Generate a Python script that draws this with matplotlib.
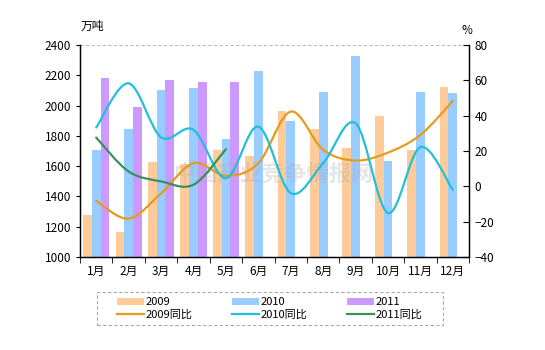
import numpy as np
import matplotlib
matplotlib.use('Agg')
import matplotlib.pyplot as plt
from matplotlib.path import Path
from matplotlib.patches import PathPatch, Rectangle
from matplotlib.lines import Line2D

plt.rcParams['font.family'] = ['Noto Sans CJK SC', 'DejaVu Sans']

months = ['1月', '2月', '3月', '4月', '5月', '6月', '7月', '8月', '9月', '10月', '11月', '12月']
out_2009 = [1280, 1167, 1626, 1615, 1705, 1664, 1965, 1846, 1720, 1932, 1708, 2123]
out_2010 = [1708, 1846, 2103, 2116, 1780, 2228, 1899, 2092, 2327, 1635, 2092, 2083]
out_2011 = [2180, 1989, 2169, 2156, 2156]
yoy_2009 = [-8.2, -18.3, -4.0, 13.1, 6.0, 13.0, 42.3, 20.7, 14.6, 19.1, 29.1, 48.3]
yoy_2010 = [33.3, 58.3, 27.8, 32.0, 4.6, 33.8, -3.8, 13.1, 35.7, -15.1, 22.2, -2.0]
yoy_2011 = [27.6, 8.4, 2.8, 0.9, 21.0]

C_BAR09, C_BAR10, C_BAR11 = '#FFCC99', '#99CCFF', '#CC99FF'
C_L09, C_L10, C_L11 = '#E89A1C', '#22C0D8', '#3A8F5E'


def smooth_path(xs, ys):
    # Excel style smoothed line: cubic bezier through the points
    p = np.column_stack([xs, ys]).astype(float)
    ext = np.vstack([p[0], p, p[-1]])
    verts, codes = [p[0]], [Path.MOVETO]
    for i in range(len(p) - 1):
        p0, p1, p2, p3 = ext[i], ext[i + 1], ext[i + 2], ext[i + 3]
        verts += [p1 + (p2 - p0) / 6, p2 - (p3 - p1) / 6, p2]
        codes += [Path.CURVE4] * 3
    return Path(verts, codes)


fig = plt.figure(figsize=(5.45, 3.5), dpi=100)
ax = fig.add_axes([0.1468, 0.2657, 0.7138, 0.6057])
ax2 = ax.twinx()

x = np.arange(len(months))
w = 0.27
b09 = ax.bar(x - w, out_2009, w, color=C_BAR09, label='2009')
b10 = ax.bar(x, out_2010, w, color=C_BAR10, label='2010')
b11 = ax.bar(x[:len(out_2011)] + w, out_2011, w, color=C_BAR11, label='2011')

for ys, c in [(yoy_2009, C_L09), (yoy_2010, C_L10), (yoy_2011, C_L11)]:
    ax2.add_patch(PathPatch(smooth_path(x[:len(ys)], ys), facecolor='none',
                            edgecolor=c, lw=1.6, capstyle='round'))

ax.set_xlim(-0.5, 11.5)
ax.set_ylim(1000, 2400)
ax.set_yticks(np.arange(1000, 2401, 200))
ax2.set_ylim(-40, 80)
ax2.set_yticks(np.arange(-40, 81, 20))

ax.set_xticks(x)
ax.set_xticklabels(months)
ax.set_xticks(np.arange(-0.5, 12, 1), minor=True)
ax.tick_params(axis='x', which='major', length=0, pad=6, labelsize=8.5)
ax.tick_params(axis='x', which='minor', length=4, direction='out')
ax.tick_params(axis='y', length=3, direction='out', labelsize=8.5)
ax2.tick_params(axis='y', length=4, direction='in', labelsize=8.5, pad=4)

for a in (ax, ax2):
    a.spines['top'].set_visible(False)
    for s in ('left', 'right', 'bottom'):
        a.spines[s].set_linewidth(0.9)
ax.axhline(2400, color='#BBBBBB', lw=0.8, ls=(0, (3, 2)))

fig.text(0.147, 0.905, '万吨', fontsize=8.5, ha='left', va='bottom')
fig.text(0.846, 0.895, '%', fontsize=8.5, ha='left', va='bottom')

# faint watermark
ax.text(5.45, 1540, '中国产业竞争情报网', fontsize=16, fontweight='bold',
        color='#AAAAAA', alpha=0.3, ha='center', va='center', zorder=5)

handles = [b09, Line2D([], [], color=C_L09, lw=1.6),
           b10, Line2D([], [], color=C_L10, lw=1.6),
           b11, Line2D([], [], color=C_L11, lw=1.6)]
labels = ['2009', '2009同比', '2010', '2010同比', '2011', '2011同比']
leg = fig.legend(handles, labels, ncol=3, loc='center',
                 bbox_to_anchor=(0.495, 0.119), frameon=False,
                 fontsize=8, handlelength=2.4, handleheight=0.6,
                 handletextpad=0.15, labelspacing=0.2, columnspacing=3.6,
                 borderpad=0, borderaxespad=0)
fig.add_artist(Rectangle((0.178, 0.071), 0.635, 0.095, transform=fig.transFigure,
                         facecolor='none', edgecolor='#AAAAAA', lw=0.8,
                         ls=(0, (3, 2))))

fig.savefig('out.png', dpi=100)
